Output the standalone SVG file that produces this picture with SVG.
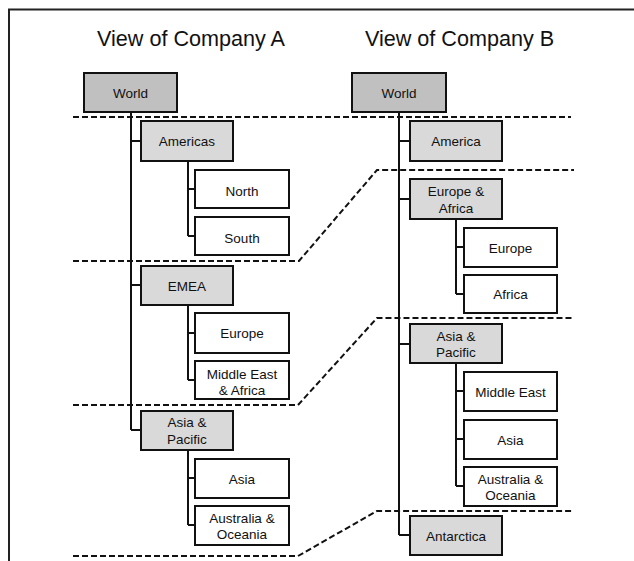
<svg xmlns="http://www.w3.org/2000/svg" width="634" height="561" viewBox="0 0 634 561">
<style>
rect{stroke:#111;stroke-width:2}
.root{fill:#c0c0c0}
.mid{fill:#d9d9d9}
.leaf{fill:#fff}
text{font-family:"Liberation Sans",Arial,sans-serif;font-size:13.5px;fill:#111;text-anchor:middle}
.title{font-size:21.6px}
.tree{fill:none;stroke:#111;stroke-width:2}
.dash{fill:none;stroke:#111;stroke-width:2;stroke-dasharray:6 3}
</style>
<rect x="0" y="0" width="634" height="561" style="fill:#fff;stroke:none"/>
<path d="M9,561 V9.5 H634" style="fill:none;stroke:#222;stroke-width:2"/>
<text class="title" x="191" y="46">View of Company A</text>
<text class="title" x="459.5" y="46">View of Company B</text>
<g id="connectors">
<path class="tree" d="M131,112 V430 M131,141 H141 M131,285 H141 M131,430 H141 M188,161 V236 M188,189 H195 M188,236 H195 M188,305 V380 M188,333 H195 M188,380 H195 M188,450 V525 M188,478 H195 M188,525 H195"/>
<path class="tree" d="M399,112 V535 M399,141 H410 M399,199 H410 M399,344 H410 M399,535 H410 M456,219 V294 M456,247 H464 M456,294 H464 M456,363 V486 M456,391 H464 M456,439 H464 M456,486 H464"/>
<path class="dash" d="M73,117 H571"/>
<path class="dash" d="M73,261 H299 L377,170 H574"/>
<path class="dash" d="M73,405 H298 L377,318 H574"/>
<path class="dash" d="M73,556 H298 L377,511 H574"/>
</g>
<g id="a-world"><rect class="root" x="84" y="73" width="93" height="39"/><text x="130.5" y="97.5">World</text></g>
<g id="a-americas"><rect class="mid" x="141" y="121" width="92" height="40"/><text x="187" y="146">Americas</text></g>
<g id="a-north"><rect class="leaf" x="195" y="170" width="94" height="38"/><text x="242" y="195.5">North</text></g>
<g id="a-south"><rect class="leaf" x="195" y="217" width="94" height="38"/><text x="242" y="242.5">South</text></g>
<g id="a-emea"><rect class="mid" x="141" y="266" width="92" height="39"/><text x="187" y="290.5">EMEA</text></g>
<g id="a-europe"><rect class="leaf" x="195" y="313" width="94" height="40"/><text x="242" y="338">Europe</text></g>
<g id="a-mea"><rect class="leaf" x="195" y="361" width="94" height="38"/><text x="242" y="378.5">Middle East</text><text x="242" y="394.5">&amp; Africa</text></g>
<g id="a-asiapac"><rect class="mid" x="141" y="411" width="92" height="39"/><text x="187" y="427">Asia &amp;</text><text x="187" y="443.5">Pacific</text></g>
<g id="a-asia"><rect class="leaf" x="195" y="459" width="94" height="39"/><text x="242" y="483.5">Asia</text></g>
<g id="a-aus"><rect class="leaf" x="195" y="506" width="94" height="39"/><text x="242" y="522.5">Australia &amp;</text><text x="242" y="539">Oceania</text></g>
<g id="b-world"><rect class="root" x="352" y="73" width="94" height="39"/><text x="399" y="97.5">World</text></g>
<g id="b-america"><rect class="mid" x="410" y="121" width="92" height="40"/><text x="456" y="146">America</text></g>
<g id="b-euraf"><rect class="mid" x="410" y="179" width="92" height="40"/><text x="456" y="196">Europe &amp;</text><text x="456" y="212.5">Africa</text></g>
<g id="b-europe"><rect class="leaf" x="464" y="228" width="93" height="39"/><text x="510.5" y="252.5">Europe</text></g>
<g id="b-africa"><rect class="leaf" x="464" y="275" width="93" height="38"/><text x="510.5" y="299">Africa</text></g>
<g id="b-asiapac"><rect class="mid" x="410" y="324" width="92" height="39"/><text x="456" y="340.5">Asia &amp;</text><text x="456" y="356.5">Pacific</text></g>
<g id="b-mideast"><rect class="leaf" x="464" y="372" width="93" height="39"/><text x="510.5" y="396.5">Middle East</text></g>
<g id="b-asia"><rect class="leaf" x="464" y="420" width="93" height="39"/><text x="510.5" y="444.5">Asia</text></g>
<g id="b-aus"><rect class="leaf" x="464" y="467" width="93" height="39"/><text x="510.5" y="483.5">Australia &amp;</text><text x="510.5" y="500">Oceania</text></g>
<g id="b-antarctica"><rect class="mid" x="410" y="516" width="92" height="39"/><text x="456" y="540.5">Antarctica</text></g>
</svg>
